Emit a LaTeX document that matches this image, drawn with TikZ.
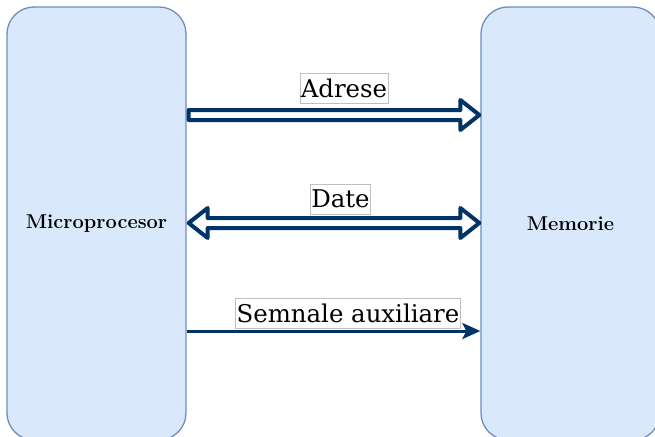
\documentclass[tikz,border=0pt]{standalone}
\usepackage{fontspec}
\newfontfamily\dejavu{DejaVu Serif}
\usetikzlibrary{arrows.meta,calc}
\definecolor{boxfill}{HTML}{DAE8FC}
\definecolor{boxline}{HTML}{6C8EBF}
\definecolor{navy}{HTML}{003366}
\definecolor{lblline}{HTML}{C0C0C0}
\tikzset{
  unit/.style={rounded corners=27pt, fill=boxfill, draw=boxline, line width=1.3pt,
    minimum width=179pt, minimum height=433pt, inner sep=0pt, font=\fontsize{20}{24}\selectfont\bfseries},
  lbl/.style={draw=lblline, fill=white, line width=0.6pt, inner xsep=1pt, inner ysep=0pt,
    minimum height=30pt, font=\dejavu\fontsize{24.4}{28}\selectfont},
  flex/.style={draw=navy, fill=white, line width=4pt, line join=round},
  thin/.style={draw=navy, line width=3pt, -{Stealth[length=18pt,width=16pt,inset=4pt]}}
}
\begin{document}
\begin{tikzpicture}[x=1pt,y=-1pt]
\useasboundingbox (0,0) rectangle (655,436);
\clip (0,0) rectangle (655,436);
\node[unit] (mp) at (96.5,223.5) {Microprocesor};
\node[unit] (mem) at (570.5,223.5) {Memorie};
% Adrese: single hollow arrow
\coordinate (a1) at ($(mp.east |- {(0,115)})+(2,0)$);
\coordinate (b1) at ($(mem.west |- {(0,115)})+(-1,0)$);
\draw[flex] ($(a1)+(0,-5)$) -- ($(b1)+(-19,-5)$) -- ($(b1)+(-19,-15)$) -- (b1)
  -- ($(b1)+(-19,15)$) -- ($(b1)+(-19,5)$) -- ($(a1)+(0,5)$) -- cycle;
% Date: double hollow arrow
\coordinate (a2) at ($(mp.east |- {(0,223)})+(2,0)$);
\coordinate (b2) at ($(mem.west |- {(0,223)})+(-1,0)$);
\draw[flex] (a2) -- ($(a2)+(19,-15)$) -- ($(a2)+(19,-5)$) -- ($(b2)+(-19,-5)$)
  -- ($(b2)+(-19,-15)$) -- (b2) -- ($(b2)+(-19,15)$) -- ($(b2)+(-19,5)$)
  -- ($(a2)+(19,5)$) -- ($(a2)+(19,15)$) -- cycle;
% Semnale auxiliare
\coordinate (a3) at (mp.east |- {(0,331)});
\coordinate (b3) at (mem.west |- {(0,331)});
\draw[thin] (a3) -- (b3);
\node[lbl] (l1) at (344,88) {Adrese};
\node[lbl] (l2) at (340.5,199) {Date};
\node[lbl] (l3) at (348,313) {Semnale auxiliare};
\end{tikzpicture}
\end{document}
